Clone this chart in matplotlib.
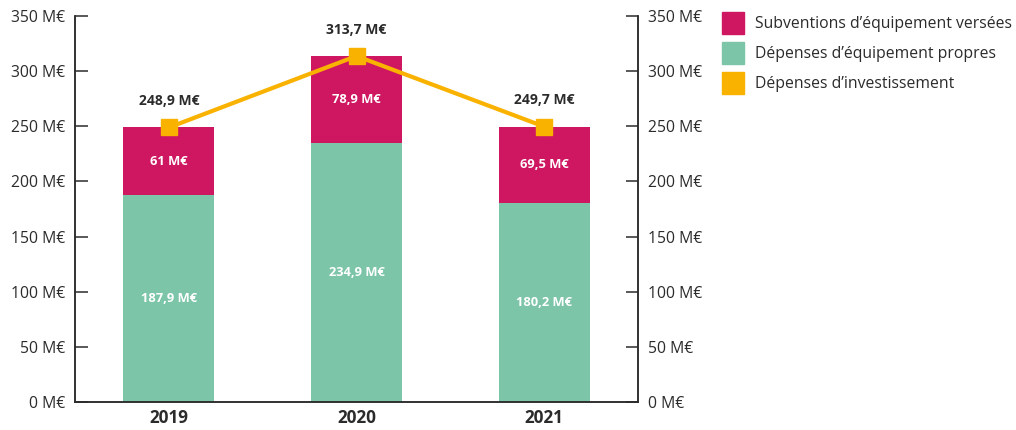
import matplotlib.pyplot as plt
from matplotlib.patches import Patch

plt.rcParams['font.family'] = ['Open Sans', 'DejaVu Sans']

years = ['2019', '2020', '2021']
propres = [187.9, 234.9, 180.2]
subventions = [61, 78.9, 69.5]
investissement = [248.9, 313.7, 249.7]
propres_labels = ['187,9 M€', '234,9 M€', '180,2 M€']
subventions_labels = ['61 M€', '78,9 M€', '69,5 M€']
total_labels = ['248,9 M€', '313,7 M€', '249,7 M€']
yticks = [0, 50, 100, 150, 200, 250, 300, 350]

GREEN = '#7DC5A9'
MAGENTA = '#CE1661'
ORANGE = '#F9B200'
DARK = '#2b2b2b'

fig = plt.figure(figsize=(10.16, 4.30), dpi=100)
ax = fig.add_axes([0.0738, 0.0651, 0.5542, 0.8977])

x = list(range(len(years)))
ax.bar(x, propres, width=0.485, color=GREEN, zorder=2)
ax.bar(x, subventions, width=0.485, bottom=propres, color=MAGENTA, zorder=2)
ax.plot(x, investissement, color=ORANGE, lw=3, marker='s', markersize=12,
        zorder=3)

for i in x:
    ax.text(i, propres[i] / 2, propres_labels[i], ha='center', va='center',
            color='white', fontsize=9.3, fontweight='bold', zorder=4)
    ax.text(i, propres[i] + subventions[i] / 2, subventions_labels[i],
            ha='center', va='center', color='white', fontsize=9.3,
            fontweight='bold', zorder=4)
    ax.annotate(total_labels[i], (i, investissement[i]), xytext=(0, 19),
                textcoords='offset points', ha='center', va='center',
                color=DARK, fontsize=10, fontweight='bold')

ax.set_xlim(-0.5, 2.5)
ax.set_ylim(0, 350)
ax.set_xticks(x)
ax.set_xticklabels(years, fontweight='bold', fontsize=12.3, color=DARK)
ax.tick_params(axis='x', length=0, pad=5)
ax.set_yticks(yticks)
ax.set_yticklabels([f'{v} M€' for v in yticks], fontsize=11.3, color=DARK)
ax.tick_params(axis='y', direction='in', length=9, width=1.1, color=DARK, pad=7)

ax2 = ax.twinx()
ax2.set_ylim(0, 350)
ax2.set_yticks(yticks)
ax2.set_yticklabels([f'{v} M€' for v in yticks], fontsize=11.3, color=DARK)
ax2.tick_params(axis='y', direction='in', length=9, width=1.1, color=DARK, pad=7)

for a in (ax, ax2):
    a.spines['top'].set_visible(False)
    for s in ('left', 'right', 'bottom'):
        a.spines[s].set_color(DARK)
        a.spines[s].set_linewidth(1.1)

handles = [Patch(color=MAGENTA), Patch(color=GREEN), Patch(color=ORANGE)]
labels = ['Subventions d’équipement versées', 'Dépenses d’équipement propres',
          'Dépenses d’investissement']
fig.legend(handles, labels, loc='upper left', bbox_to_anchor=(0.7044, 0.987),
           frameon=False, fontsize=11.3, handlelength=1.4, handleheight=1.78,
           handletextpad=0.7, labelspacing=0.51, borderaxespad=0,
           labelcolor=DARK)

fig.savefig('out.png', dpi=100)
